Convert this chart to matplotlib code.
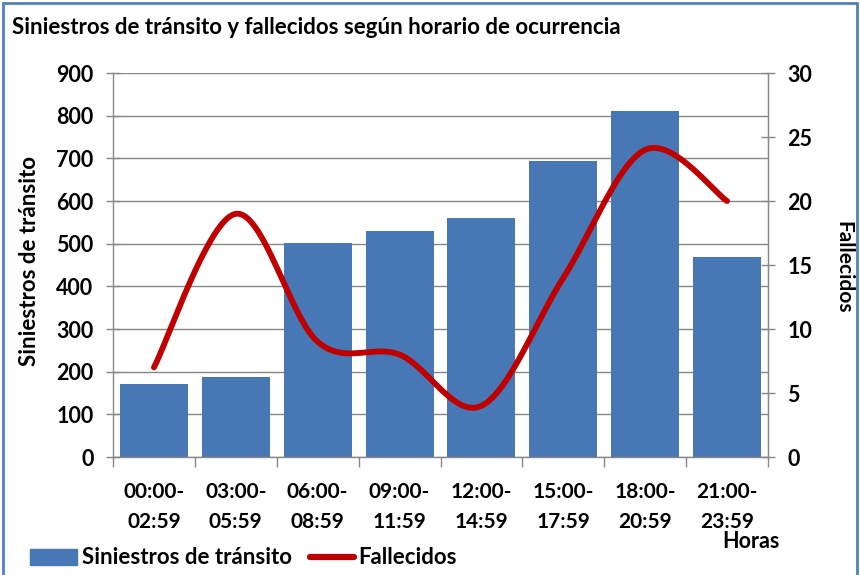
import matplotlib
matplotlib.use("Agg")
import matplotlib.pyplot as plt
import numpy as np
from matplotlib.patches import Rectangle
from matplotlib.lines import Line2D

categories = ["00:00-\n02:59", "03:00-\n05:59", "06:00-\n08:59", "09:00-\n11:59",
              "12:00-\n14:59", "15:00-\n17:59", "18:00-\n20:59", "21:00-\n23:59"]
siniestros = [170, 187, 501, 530, 561, 694, 811, 468]
fallecidos = [7, 19, 9, 8, 4, 14, 24, 20]
left_ticks = [0, 100, 200, 300, 400, 500, 600, 700, 800, 900]
right_ticks = [0, 5, 10, 15, 20, 25, 30]

FONT = ["Lato", "DejaVu Sans"]
plt.rcParams["font.family"] = FONT

W, H = 860, 575
fig = plt.figure(figsize=(W / 100, H / 100), dpi=100)

def fx(px):
    return px / W

def fy(py):
    return 1 - py / H

L, R, T, B = 113, 768, 73, 457
ax = fig.add_axes([fx(L), fy(B), fx(R) - fx(L), fy(T) - fy(B)])
ax2 = ax.twinx()

x = np.arange(len(categories))
bar_color = "#4777B4"
grid_color = "#878787"

ax.bar(x, siniestros, width=0.83, color=bar_color, zorder=2)
ax.set_xlim(-0.5, len(categories) - 0.5)
ax.set_ylim(0, 900)
ax.set_yticks(left_ticks)
ax.yaxis.grid(True, color=grid_color, linewidth=1.0, zorder=0)
ax.set_axisbelow(True)
ax.set_xticks(x)
ax.set_xticklabels(categories, fontsize=15, fontweight="bold", linespacing=1.62)
ax.set_xticks(np.arange(-0.5, len(categories)), minor=True)
ax.tick_params(axis="x", which="major", length=0, pad=18)
ax.tick_params(axis="x", which="minor", length=7, width=1.0, color=grid_color, direction="out")
ax.tick_params(axis="y", length=10, width=1.0, color=grid_color, direction="inout",
               labelsize=15.5, pad=9)
for lab in ax.get_yticklabels():
    lab.set_fontweight("bold")
ax.spines["top"].set_visible(False)
for s in ["left", "bottom", "right"]:
    ax.spines[s].set_color(grid_color)
    ax.spines[s].set_linewidth(1.0)

# Excel-style smoothed line (Bezier with 1/6 tangents)
def smooth(xs, ys, n=40):
    xs = np.asarray(xs, float)
    ys = np.asarray(ys, float)
    px = np.concatenate([[xs[0]], xs, [xs[-1]]])
    py = np.concatenate([[ys[0]], ys, [ys[-1]]])
    ox, oy = [], []
    t = np.linspace(0, 1, n)
    for i in range(1, len(px) - 2):
        p0 = np.array([px[i], py[i]])
        p3 = np.array([px[i + 1], py[i + 1]])
        c1 = p0 + (np.array([px[i + 1], py[i + 1]]) - np.array([px[i - 1], py[i - 1]])) / 6
        c2 = p3 - (np.array([px[i + 2], py[i + 2]]) - np.array([px[i], py[i]])) / 6
        b = ((1 - t) ** 3)[:, None] * p0 + (3 * (1 - t) ** 2 * t)[:, None] * c1 \
            + (3 * (1 - t) * t ** 2)[:, None] * c2 + (t ** 3)[:, None] * p3
        ox.extend(b[:, 0])
        oy.extend(b[:, 1])
    return np.array(ox), np.array(oy)

sx, sy = smooth(x, fallecidos)
ax2.plot(sx, sy, color="#C00000", linewidth=4.2, solid_capstyle="round", zorder=3)
ax2.set_ylim(0, 30)
ax2.set_yticks(right_ticks)
ax2.tick_params(axis="y", length=10, width=1.0, color=grid_color, direction="inout",
                labelsize=15.5, pad=9)
for lab in ax2.get_yticklabels():
    lab.set_fontweight("bold")
for s in ["top", "left", "bottom"]:
    ax2.spines[s].set_visible(False)
ax2.spines["right"].set_color(grid_color)

fig.text(fx(12), fy(28), "Siniestros de tránsito y fallecidos según horario de ocurrencia",
         fontsize=16, fontweight="bold", ha="left", va="center")
fig.text(fx(30), fy(261), "Siniestros de tránsito", rotation=90, fontsize=16,
         fontweight="bold", ha="center", va="center")
fig.text(fx(843), fy(267), "Fallecidos", rotation=-90, fontsize=15,
         fontweight="bold", ha="center", va="center")
fig.text(fx(751), fy(541), "Horas", fontsize=15.5, fontweight="bold", ha="center", va="center")

# legend
fig.patches.append(Rectangle((fx(30), fy(565)), fx(47), 16 / H, transform=fig.transFigure,
                             color=bar_color))
fig.text(fx(82), fy(557), "Siniestros de tránsito", fontsize=16, fontweight="bold",
         ha="left", va="center")
fig.lines.append(Line2D([fx(310), fx(354)], [fy(557), fy(557)], transform=fig.transFigure,
                        color="#C00000", linewidth=4.5, solid_capstyle="round"))
fig.text(fx(358), fy(557), "Fallecidos", fontsize=16, fontweight="bold",
         ha="left", va="center")

# outer frame
fig.patches.append(Rectangle((fx(3), fy(578)), fx(854), 575 / H, transform=fig.transFigure,
                             fill=False, edgecolor="#4F81BD", linewidth=2))

fig.savefig("out.png", dpi=100)
